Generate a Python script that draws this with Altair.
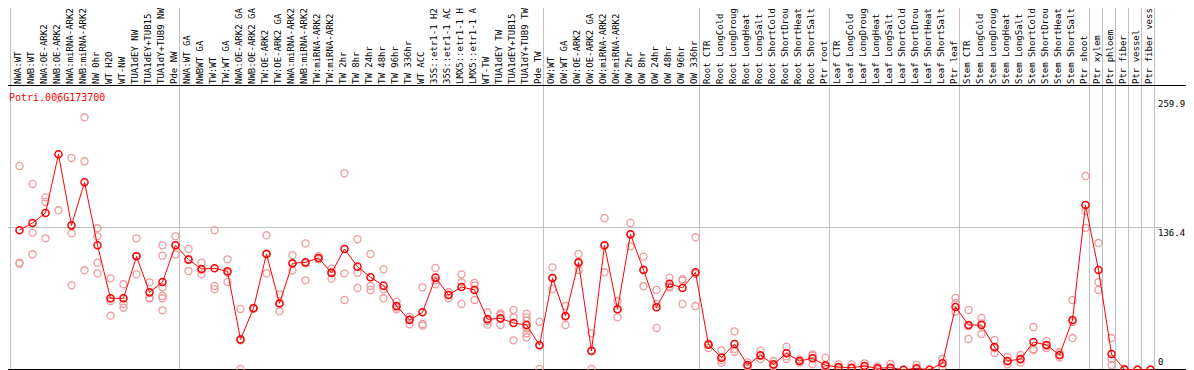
import altair as alt
import pandas as pd

title_text = "Potri.006G173700"

labels = [
    "NWA:WT", "NWB:WT", "NWA:OE-ARK2", "NWB:OE-ARK2", "NWA:miRNA-ARK2", "NWB:miRNA-ARK2",
    "NW 0hr", "WT H2O", "WT-NW", "TUA1dEY NW", "TUA1dEY+TUB15", "TUA1dY+TUB9 NW", "Pde NW",
    "NWA:WT GA", "NWBWT GA", "TW:WT", "TW:WT GA", "NWA:OE-ARK2 GA", "NWB:OE-ARK2 GA",
    "TW:OE-ARK2", "TW:OE-ARK2 GA", "NWA:miRNA-ARK2", "NWB:miRNA-ARK2", "TW:miRNA-ARK2",
    "TW:miRNA-ARK2", "TW 2hr", "TW 8hr", "TW 24hr", "TW 48hr", "TW 96hr", "TW 336hr",
    "WT ACC", "35S::etr1-1 H2", "35S::etr1-1 AC", "LMX5::etr1-1 H", "LMX5::etr1-1 A",
    "WT-TW", "TUA1dEY TW", "TUA1dEY+TUB15", "TUA1dY+TUB9 TW", "Pde TW",
    "OW:WT", "OW:WT GA", "OW:OE-ARK2", "OW:OE-ARK2 GA", "OW:miRNA-ARK2", "OW:miRNA-ARK2",
    "OW 2hr", "OW 8hr", "OW 24hr", "OW 48hr", "OW 96hr", "OW 336hr",
    "Root CTR", "Root LongCold", "Root LongDroug", "Root LongHeat", "Root LongSalt",
    "Root ShortCold", "Root ShortDrou", "Root ShortHeat", "Root ShortSalt", "Ptr root",
    "Leaf CTR", "Leaf LongCold", "Leaf LongDroug", "Leaf LongHeat", "Leaf LongSalt",
    "Leaf ShortCold", "Leaf ShortDrou", "Leaf ShortHeat", "Leaf ShortSalt", "Ptr leaf",
    "Stem CTR", "Stem LongCold", "Stem LongDroug", "Stem LongHeat", "Stem LongSalt",
    "Stem ShortCold", "Stem ShortDrou", "Stem ShortHeat", "Stem ShortSalt", "Ptr shoot",
    "Ptr xylem", "Ptr phloem", "Ptr fiber", "Ptr vessel", "Ptr fiber vess",
]

means = [
    133.8, 140.7, 150.2, 206.4, 138.4, 179.6, 119.3, 68.6, 68.6, 108.8, 74.3, 84.2, 119.3,
    105.6, 96.7, 97.3, 94.4, 29.3, 59.0, 111.0, 63.8, 102.1, 103.0, 107.2, 92.8, 115.8,
    98.9, 88.7, 80.7, 61.2, 47.8, 55.2, 88.4, 71.8, 79.4, 76.6, 48.5, 49.4, 45.0, 43.1, 23.6,
    88.0, 51.7, 103.0, 18.2, 119.3, 58.1, 129.8, 95.7, 60.0, 82.6, 78.5, 93.5,
    24.2, 11.8, 24.9, 4.8, 14.0, 5.4, 16.0, 8.6, 11.2, 4.5,
    2.9, 2.2, 3.8, 1.6, 2.2, 0.2, 1.6, 0.3, 6.4, 60.3,
    43.1, 43.0, 22.0, 8.6, 10.5, 26.8, 23.9, 14.4, 47.8, 157.9,
    95.7, 15.3, 0.5, 0.3, 0.2,
]

replicates = [
    [195.2, 102.7, 101.7], [178.0, 131.4, 110.7], [165.2, 160.8, 126.0], [259.9, 152.8],
    [202.9, 130.8, 81.0], [241.8, 199.7, 95.4], [135.6, 127.9, 102.7, 92.5], [87.7, 66.0, 52.0],
    [82.0, 63.2, 59.6], [126.0, 109.0, 91.5], [83.9, 69.2, 68.3],
    [119.3, 109.4, 79.1, 70.8, 68.6, 57.1], [127.9, 119.3, 110.7],
    [115.8, 106.0, 94.7], [102.7, 95.9, 91.5], [133.6, 80.4, 77.2], [105.9, 93.0, 84.2],
    [58.4, 28.5, 1.0], [59.0, 58.5, 59.5], [128.9, 111.5, 92.5], [72.4, 63.0, 56.2],
    [109.7, 101.5, 95.1], [121.2, 102.0, 85.8], [109.1, 106.5, 106.0], [97.0, 94.0, 87.4],
    [188.2, 92.5, 67.0], [125.1, 93.1, 78.5], [111.0, 80.4, 76.6], [96.3, 77.2, 68.6],
    [65.4, 60.0, 58.1], [51.0, 48.7, 43.7], [79.1, 44.0, 42.5], [97.6, 85.6, 82.0],
    [74.6, 72.0, 68.6], [91.5, 83.9, 63.2], [83.3, 80.7, 67.0], [55.2, 47.0, 43.4],
    [54.2, 52.6, 43.1], [57.4, 50.4, 28.4], [53.9, 50.4, 46.9, 39.9, 35.1, 31.3],
    [46.2, 23.6, 1.0],
    [98.2, 88.0, 77.5], [61.2, 51.0, 43.1], [111.0, 102.0, 95.7], [35.1, 18.5, 1.0],
    [145.2, 119.0, 93.5], [66.0, 58.0, 50.4], [140.7, 130.0, 118.3], [108.5, 96.0, 80.1],
    [76.6, 63.2, 40.2], [88.4, 80.1, 79.0], [86.8, 85.5, 63.2], [127.0, 92.0, 61.2],
    [25.5, 24.0, 21.0], [18.8, 9.5, 7.0], [37.0, 20.2, 17.5], [7.3, 4.0, 3.0],
    [18.5, 13.5, 10.5], [8.6, 4.5, 3.3], [22.3, 13.0, 10.5], [10.2, 8.6, 7.0],
    [15.0, 13.7, 5.4], [11.8, 3.3, 0.0],
    [5.4, 1.6], [5.4, 1.0], [6.4, 1.6], [3.3, 0.5], [5.7, 1.0], [0.2], [4.8, 0.5], [0.3],
    [10.5, 3.3], [68.9, 64.0, 56.0],
    [57.4, 42.0, 29.7], [49.8, 44.5, 34.4], [28.7, 21.0, 16.3], [12.4, 8.0, 5.5],
    [14.4, 10.0, 7.0], [41.1, 20.0, 19.1], [27.8, 23.0, 21.0], [17.2, 14.0, 12.0],
    [66.9, 46.0, 30.6], [185.6, 152.0, 136.0],
    [121.5, 84.0, 76.6], [30.6, 10.5, 4.8], [1.0, 0.0], [0.5], [0.3],
]

group_starts = [1, 14, 42, 54, 64, 74, 84, 85, 86, 87, 88]
group_end = [88]
grid_values = [136.4]
tick_top = [259.9, 136.4]
tick_bottom = [0]

idx = list(range(1, len(labels) + 1))
df_mean = pd.DataFrame({"idx": idx, "label": labels, "mean": means})
df_rep = pd.DataFrame(
    [{"idx": i + 1, "value": v} for i, r in enumerate(replicates) for v in r]
)
df_groups = pd.DataFrame({"idx": group_starts})
df_end = pd.DataFrame({"idx": group_end})
df_grid = pd.DataFrame({"v": grid_values})
df_ticktop = pd.DataFrame({"v": tick_top, "t": [str(v) for v in tick_top]})
df_tickbot = pd.DataFrame({"v": tick_bottom, "t": [str(v) for v in tick_bottom]})
df_title = pd.DataFrame({"t": [title_text]})

FONT = "DejaVu Sans Mono"
GRAY = "#c0c0c0"
RED = "#ff0000"
PINK = "#ee9a9a"

xscale = alt.Scale(domain=idx, paddingInner=0, paddingOuter=0)
yscale = alt.Scale(domain=[0, 272.7], nice=False, zero=False)
X = alt.X("idx:O", scale=xscale, axis=None)

groups = alt.Chart(df_groups).mark_rule(color=GRAY, strokeWidth=1, xOffset=0.5).encode(
    x=alt.X("idx:O", scale=xscale, axis=None, bandPosition=0),
    y=alt.value(-77), y2=alt.value(285),
)
ends = alt.Chart(df_end).mark_rule(color=GRAY, strokeWidth=1, xOffset=0.5).encode(
    x=alt.X("idx:O", scale=xscale, axis=None, bandPosition=1),
    y=alt.value(-77), y2=alt.value(285),
)
grid = alt.Chart(df_grid).mark_rule(color=GRAY, strokeWidth=1).encode(
    y=alt.Y("v:Q", scale=yscale, axis=None),
    x=alt.value(-10), x2=alt.value(1152),
)
frame_top = alt.Chart(df_title).mark_rule(color="black", strokeWidth=1, yOffset=0.5).encode(
    x=alt.value(-9), x2=alt.value(1183), y=alt.value(0)
)
frame_bottom = alt.Chart(df_title).mark_rule(color="black", strokeWidth=1, yOffset=0.5).encode(
    x=alt.value(-9), x2=alt.value(1183), y=alt.value(284)
)

header = alt.Chart(df_mean).mark_text(
    angle=270, align="left", baseline="middle", font=FONT, fontSize=9,
    color="black", xOffset=1,
).encode(x=X, y=alt.value(-1), text="label:N")

title = alt.Chart(df_title).mark_text(
    align="left", baseline="alphabetic", font=FONT, fontSize=10, color=RED
).encode(x=alt.value(-1), y=alt.value(16), text="t:N")

ticks_top = alt.Chart(df_ticktop).mark_text(
    align="left", baseline="top", font=FONT, fontSize=9, color="black", dy=2
).encode(y=alt.Y("v:Q", scale=yscale, axis=None), x=alt.value(1148), text="t:N")
ticks_bot = alt.Chart(df_tickbot).mark_text(
    align="left", baseline="bottom", font=FONT, fontSize=9, color="black", dy=-3
).encode(y=alt.Y("v:Q", scale=yscale, axis=None), x=alt.value(1148), text="t:N")

reps = alt.Chart(df_rep).mark_point(
    shape="circle", filled=False, size=50, strokeWidth=1.3, color=PINK, opacity=1, xOffset=3
).encode(x=X, y=alt.Y("value:Q", scale=yscale, axis=None))

line = alt.Chart(df_mean).mark_line(color=RED, strokeWidth=1, xOffset=3).encode(
    x=X, y=alt.Y("mean:Q", scale=yscale, axis=None)
)
pts = alt.Chart(df_mean).mark_point(
    shape="circle", filled=False, size=50, strokeWidth=1.5, color=RED, opacity=1, xOffset=3
).encode(x=X, y=alt.Y("mean:Q", scale=yscale, axis=None))

chart = alt.layer(
    groups, ends, grid, frame_top, frame_bottom, header, title,
    ticks_top, ticks_bot, reps, line, pts,
).properties(
    width=1144, height=285,
    autosize=alt.AutoSizeParams(type="none"),
    padding={"left": 2, "top": 77, "right": 32, "bottom": 0},
    background="white",
).configure_view(strokeWidth=0)

chart.save("out.html", embed_options={"renderer": "svg", "actions": False})
